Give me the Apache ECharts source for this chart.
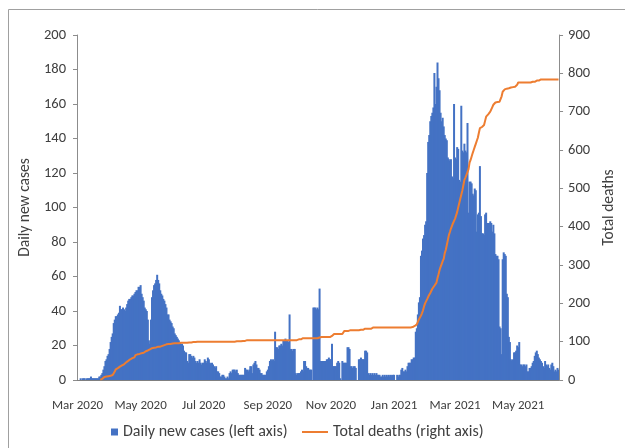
<!DOCTYPE html>
<html>
<head>
<meta charset="utf-8">
<script src="https://cdn.jsdelivr.net/npm/echarts@6/dist/echarts.min.js"></script>
<style>html,body{margin:0;padding:0;background:#fff;}#c{width:625px;height:448px;}</style>
</head>
<body>
<div id="c"></div>
<script>
// x axis: one category per day starting 1 Mar 2020
const startDate = '2020-03-01';
const dayCount = 466;
const labelMonths = ['2020-03','2020-05','2020-07','2020-09','2020-11','2021-01','2021-03','2021-05'];
const monthNames = ['Jan','Feb','Mar','Apr','May','Jun','Jul','Aug','Sep','Oct','Nov','Dec'];
const leftTicks = [0,20,40,60,80,100,120,140,160,180,200];
const rightTicks = [0,100,200,300,400,500,600,700,800,900];

// Daily new cases, by month
const casesMar20 = [0,0,0,1,0,1,1,1,0,1,1,1,1,2,1,1,1,1,1,1,1,2,2,3,4,6,8,11,12,14,15];
const casesApr20 = [18,22,25,27,33,35,37,37,38,39,43,41,41,42,41,40,42,44,46,47,47,48,49,49,50,51,52,52,54,54];
const casesMay20 = [55,50,48,46,42,41,40,35,23,21,35,48,52,55,56,58,61,58,56,52,50,49,47,46,44,42,38,38,35,34,33];
const casesJun20 = [31,30,27,26,25,24,23,22,21,21,20,17,16,16,11,10,15,15,14,13,14,13,11,10,11,10,12,10,9,10];
const casesJul20 = [10,12,11,10,13,12,10,9,10,9,8,7,8,5,5,4,2,2,3,3,2,1,1,2,1,4,5,4,6,6,6];
const casesAug20 = [5,6,4,3,3,3,3,3,3,7,6,6,5,6,8,8,4,9,10,11,9,7,7,6,4,4,3,3,3,3,5];
const casesSep20 = [6,8,11,12,11,12,11,28,19,19,18,20,20,21,20,23,23,24,23,23,22,38,18,18,17,18,18,4,3,4];
const casesOct20 = [4,4,5,6,5,11,11,8,7,7,6,6,6,0,42,42,42,41,42,41,53,11,11,11,11,11,11,12,12,13,12];
const casesNov20 = [12,21,8,8,8,8,10,11,10,1,0,11,10,10,10,10,19,19,18,8,8,7,8,8,7,0,0,12,12,13];
const casesDec20 = [12,12,12,17,17,16,4,3,4,3,4,3,4,3,4,3,3,3,2,2,3,2,3,2,3,2,3,2,3,2,3];
const casesJan21 = [3,0,0,3,2,3,3,6,7,5,5,6,5,8,10,10,10,12,12,13,13,28,30,38,45,48,72,75,82,84,90];
const casesFeb21 = [92,120,138,142,150,153,155,158,178,160,170,184,175,168,155,150,152,147,142,140,139,129,128,127,128,118,117,160];
const casesMar21 = [129,128,135,134,116,115,159,133,132,137,133,132,149,97,115,115,114,108,107,111,110,86,96,97,124,95,85,85,84,96,97];
const casesApr21 = [91,91,91,92,91,86,90,85,73,72,72,70,31,30,15,70,74,73,72,50,48,25,22,12,11,12,16,16,17,20];
const casesMay21 = [19,22,9,9,8,9,9,8,9,5,5,7,7,8,10,11,14,16,17,15,13,12,11,10,8,7,11,9,8,9,7];
const casesJun21 = [6,9,10,8,5,6,5,7,6];

// Total deaths (cumulative), by month
const deathsMar20 = [null,null,null,null,null,null,null,null,null,null,null,null,null,null,null,null,null,null,null,null,null,null,1,2,3,5,8,9,9,10,10];
const deathsApr20 = [10,11,12,13,14,22,28,30,31,33,35,37,38,40,41,44,46,48,50,52,54,55,57,58,59,65,66,67,67,68];
const deathsMay20 = [68,70,70,71,73,75,76,77,78,80,81,83,84,84,84,85,86,87,87,87,88,89,90,91,91,93,94,94,94,94,95];
const deathsJun20 = [95,95,96,96,96,96,96,97,97,97,97,97,97,97,97,98,98,98,98,99,99,99,99,100,100,100,100,100,100,100];
const deathsJul20 = [100,100,100,100,100,100,100,100,100,100,100,100,100,100,100,100,100,100,100,100,100,100,100,100,100,100,100,100,100,100,100];
const deathsAug20 = [101,101,101,101,101,101,102,102,102,102,102,104,104,104,104,104,104,104,104,104,104,104,104,104,104,104,104,104,104,104,104];
const deathsSep20 = [104,104,104,104,104,104,104,104,104,104,104,104,104,104,104,104,104,104,104,104,104,104,104,104,104,104,104,104,104,106];
const deathsOct20 = [106,106,106,109,109,109,109,109,109,109,109,109,109,109,109,109,109,109,109,111,111,112,112,112,112,112,112,112,112,112,112];
const deathsNov20 = [112,115,120,120,120,120,120,120,120,120,120,120,124,128,128,128,128,128,128,130,130,130,130,130,130,130,130,130,131,131];
const deathsDec20 = [131,131,131,134,134,134,134,134,134,134,137,137,137,137,137,137,137,137,137,137,137,137,137,137,137,137,137,137,137,137,137];
const deathsJan21 = [137,137,137,137,137,137,137,137,137,137,137,137,137,137,137,137,137,137,138,139,141,143,145,150,158,163,168,174,182,192,200];
const deathsFeb21 = [205,211,217,222,227,232,238,242,246,250,254,266,276,287,295,302,310,316,331,339,352,365,378,386,395,402,409,415];
const deathsMar21 = [421,426,438,450,461,472,483,494,508,522,528,535,542,550,567,574,583,592,600,608,616,624,632,645,657,659,660,662,665,676,687];
const deathsApr21 = [690,693,696,700,705,712,718,723,724,725,725,726,726,726,740,752,757,758,759,760,761,761,762,763,764,764,765,765,765,770];
const deathsMay21 = [776,776,776,776,776,776,776,776,776,776,776,776,776,778,778,778,778,781,781,781,781,781,784,784,784,784,784,784,784,784,784];
const deathsJun21 = [784,784,784,784,784,784,784,784,784];

const cases = [].concat(casesMar20,casesApr20,casesMay20,casesJun20,casesJul20,casesAug20,casesSep20,casesOct20,casesNov20,casesDec20,casesJan21,casesFeb21,casesMar21,casesApr21,casesMay21,casesJun21);
const deaths = [].concat(deathsMar20,deathsApr20,deathsMay20,deathsJun20,deathsJul20,deathsAug20,deathsSep20,deathsOct20,deathsNov20,deathsDec20,deathsJan21,deathsFeb21,deathsMar21,deathsApr21,deathsMay21,deathsJun21);

const days = [];
const t0 = Date.parse(startDate + 'T00:00:00Z');
for (let i = 0; i < dayCount; i++) {
  days.push(new Date(t0 + i * 86400000).toISOString().slice(0, 10));
}

const FONT = "Carlito, 'Liberation Sans', Arial, sans-serif";
const TXT = '#404040';
const chart = echarts.init(document.getElementById('c'), null, {renderer: 'canvas'});
chart.setOption({
  animation: false,
  backgroundColor: '#ffffff',
  graphic: [{
    type: 'rect', silent: true, z: -10,
    shape: {x: 8.5, y: 9.5, width: 700, height: 500},
    style: {fill: 'none', stroke: '#a0a0a0', lineWidth: 1}
  }],
  grid: {left: 77, right: 63, top: 35, bottom: 68, containLabel: false},
  legend: [{
    left: 111, top: 424, padding: 0, itemWidth: 7, itemHeight: 7, icon: 'rect',
    data: ['Daily new cases (left axis)'],
    textStyle: {fontFamily: FONT, fontSize: 16, color: TXT}
  }, {
    left: 302, top: 424, padding: 0, itemWidth: 26, itemHeight: 2, icon: 'rect',
    data: ['Total deaths (right axis)'],
    textStyle: {fontFamily: FONT, fontSize: 16, color: TXT}
  }],
  xAxis: {
    type: 'category', data: days, boundaryGap: true,
    axisLine: {lineStyle: {color: '#7f7f7f', width: 1}},
    axisTick: {show: false},
    axisLabel: {
      interval: function (idx, val) { return val.slice(8) === '01' && labelMonths.indexOf(val.slice(0, 7)) >= 0; },
      formatter: function (val) { return monthNames[parseInt(val.slice(5, 7), 10) - 1] + ' ' + val.slice(0, 4); },
      margin: 19, fontFamily: FONT, fontSize: 13, color: TXT
    },
    splitLine: {show: false}
  },
  yAxis: [{
    type: 'value', min: leftTicks[0], max: leftTicks[leftTicks.length - 1], interval: 20,
    name: 'Daily new cases', nameLocation: 'middle', nameGap: 42,
    nameTextStyle: {fontFamily: FONT, fontSize: 15.5, color: TXT},
    axisLine: {show: true, lineStyle: {color: '#8c8c8c'}},
    axisTick: {show: true, inside: false, length: 4, lineStyle: {color: '#8c8c8c'}},
    axisLabel: {margin: 11, fontFamily: FONT, fontSize: 14.5, color: TXT},
    splitLine: {show: false}
  }, {
    type: 'value', min: rightTicks[0], max: rightTicks[rightTicks.length - 1], interval: 100,
    position: 'right',
    name: 'Total deaths', nameLocation: 'middle', nameGap: 40,
    nameTextStyle: {fontFamily: FONT, fontSize: 15.5, color: TXT},
    axisLine: {show: true, lineStyle: {color: '#8c8c8c'}},
    axisTick: {show: true, inside: false, length: 4, lineStyle: {color: '#8c8c8c'}},
    axisLabel: {margin: 9, fontFamily: FONT, fontSize: 14.5, color: TXT},
    splitLine: {show: false}
  }],
  series: [{
    name: 'Daily new cases (left axis)', type: 'bar', data: cases,
    yAxisIndex: 0, barWidth: 2,
    itemStyle: {color: '#4472C4'}
  }, {
    name: 'Total deaths (right axis)', type: 'line', data: deaths,
    yAxisIndex: 1, showSymbol: false, symbol: 'none', connectNulls: false,
    lineStyle: {color: '#ED7D31', width: 2}, itemStyle: {color: '#ED7D31'}, z: 5
  }]
});
</script>
</body>
</html>
